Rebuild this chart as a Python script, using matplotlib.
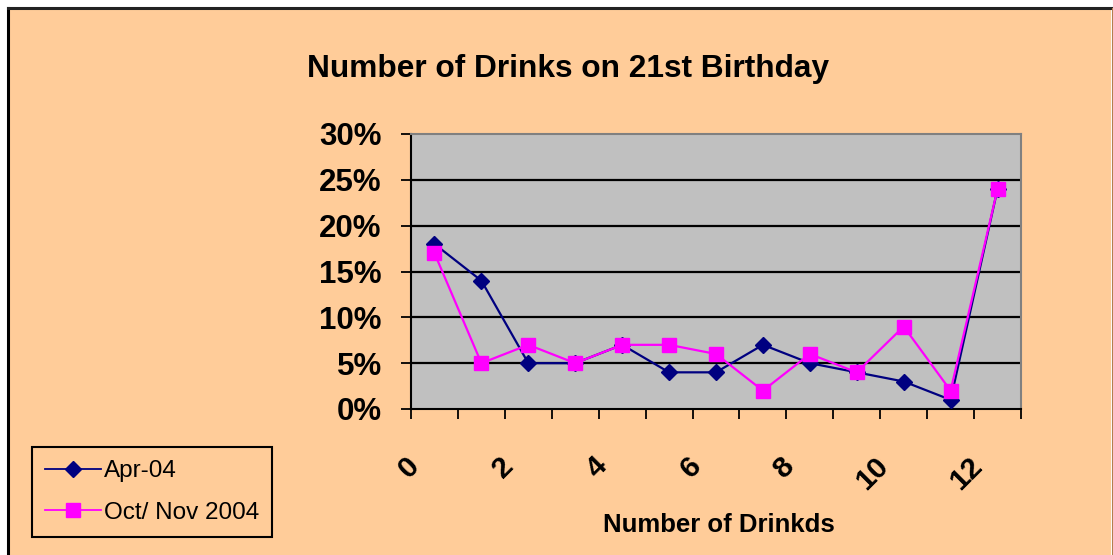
import numpy as np
import matplotlib.pyplot as plt
import matplotlib.transforms as mtransforms
from matplotlib.patches import Rectangle
from matplotlib.lines import Line2D

# data (share of respondents per number of drinks)
drinks = np.arange(13)
apr04 = [18, 14, 5, 5, 7, 4, 4, 7, 5, 4, 3, 1, 24]
octnov04 = [17, 5, 7, 5, 7, 7, 6, 2, 6, 4, 9, 2, 24]
series_names = ['Apr-04', 'Oct/ Nov 2004']
tick_labels = ['0', '', '2', '', '4', '', '6', '', '8', '', '10', '', '12', '']

W, H = 1113, 555
plt.rcParams['font.family'] = ['Liberation Sans', 'DejaVu Sans']

fig = plt.figure(figsize=(W / 100, H / 100), dpi=100, facecolor='white')

# peach chart area with black frame on left/top
fig.patches.append(Rectangle((8 / W, -0.05), (1111 - 8) / W, 1.05 - 8 / H,
                             transform=fig.transFigure, facecolor='#FFCC99',
                             edgecolor='none', zorder=-10))
fig.lines.append(Line2D([8 / W, 8 / W], [0, 1 - 8 / H], transform=fig.transFigure,
                        color='black', lw=2.2))
fig.lines.append(Line2D([8 / W, 1111 / W], [1 - 8 / H, 1 - 8 / H], transform=fig.transFigure,
                        color='#222222', lw=2.2))
fig.lines.append(Line2D([1111.5 / W, 1111.5 / W], [0, 1 - 8 / H], transform=fig.transFigure,
                        color='#B08050', lw=0.8))

ax = fig.add_axes([411 / W, 1 - 409 / H, (1021 - 411) / W, (409 - 134) / H])
ax.set_facecolor('#C0C0C0')

x = drinks + 0.5
ax.plot(x, np.array(apr04) / 100, color='#000080', lw=1.6, marker='D', ms=8.5,
        label=series_names[0], zorder=3)
ax.plot(x, np.array(octnov04) / 100, color='#FF00FF', lw=1.6, marker='s', ms=10,
        label=series_names[1], zorder=4)

ax.set_xlim(0, 13)
ax.set_ylim(0, 0.30)
ax.set_yticks(np.arange(0, 0.31, 0.05))
ax.set_yticklabels([f'{int(round(v * 100))}%' for v in np.arange(0, 0.31, 0.05)],
                   fontsize=22.5, fontweight='bold')
for yv in np.arange(0.05, 0.26, 0.05):
    ax.axhline(yv, color='black', lw=1.6, zorder=1)

ax.set_xticks(np.arange(14))
ax.set_xticklabels(tick_labels, fontsize=21.5, fontweight='bold', rotation=45,
                   ha='right', va='top')
ax.tick_params(axis='x', direction='out', length=7, width=1.3, pad=24)
ax.tick_params(axis='y', direction='out', length=7, width=1.3, pad=14)
shift = mtransforms.ScaledTranslation(14 / 100, 0, fig.dpi_scale_trans)
for lab in ax.get_xticklabels():
    lab.set_transform(lab.get_transform() + shift)

for side in ['top', 'right']:
    ax.spines[side].set_color('#808080')
    ax.spines[side].set_linewidth(1.5)
for side in ['left', 'bottom']:
    ax.spines[side].set_color('black')
    ax.spines[side].set_linewidth(1.5)

fig.text(567.7 / W, 1 - 77.3 / H, 'Number of Drinks on 21st Birthday',
         ha='center', va='baseline', fontsize=22.8, fontweight='bold')
fig.text(718.7 / W, 1 - 531.7 / H, 'Number of Drinkds',
         ha='center', va='baseline', fontsize=18.5, fontweight='bold')

leg = fig.legend(loc='upper left', bbox_to_anchor=(32 / W, 1 - 447 / H),
                 fontsize=17.5, frameon=True, fancybox=False, edgecolor='black',
                 facecolor='#FFCC99', framealpha=1, handlelength=2.3,
                 handletextpad=0.1, labelspacing=0.8, borderpad=0.55,
                 borderaxespad=0)
leg.get_frame().set_linewidth(1.5)
for h in leg.legend_handles:
    h.set_linewidth(1.3)

fig.savefig('out.png', dpi=100, facecolor=fig.get_facecolor())
